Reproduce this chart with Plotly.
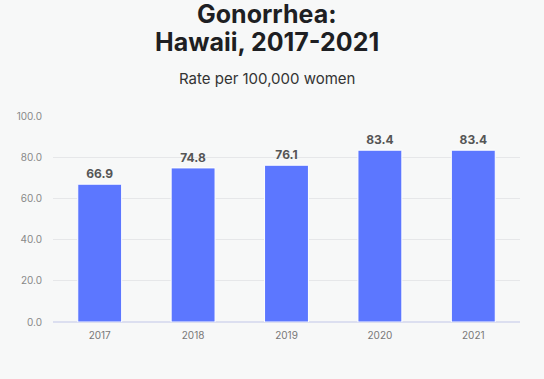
import plotly.graph_objects as go

years = ["2017", "2018", "2019", "2020", "2021"]
rates = [66.9, 74.8, 76.1, 83.4, 83.4]
y_ticks = [0, 20, 40, 60, 80, 100]
y_tick_labels = ["0.0", "20.0", "40.0", "60.0", "80.0", "100.0"]

bg = "#f7f8f8"
fig = go.Figure(go.Bar(
    x=years, y=rates,
    marker=dict(color="#5c77ff", line=dict(color="#ffffff", width=1)),
    text=[f"{v:.1f}" for v in rates],
    textposition="outside",
    textfont=dict(family="Inter", size=12, color="#555555", weight="bold"),
    cliponaxis=False,
))

title_font = dict(family="Inter", size=25, color="#1e1f23", weight=900)
cx = 0.458
fig.update_layout(
    width=544, height=379,
    paper_bgcolor=bg, plot_bgcolor=bg,
    margin=dict(l=53, r=24, t=116, b=57, autoexpand=False),
    bargap=0.53,
    showlegend=False,
    font=dict(family="Inter"),
    annotations=[
        dict(text="<b>Gonorrhea:</b>", x=cx, y=1, xref="paper", yref="paper",
             xanchor="center", yanchor="middle", showarrow=False, yshift=102,
             font=title_font),
        dict(text="<b>Hawaii, 2017-2021</b>", x=cx, y=1, xref="paper", yref="paper",
             xanchor="center", yanchor="middle", showarrow=False, yshift=74,
             font=title_font),
        dict(text="Rate per 100,000 women", x=cx, xref="paper", yref="paper", y=1,
             xanchor="center", yanchor="middle", showarrow=False, yshift=38,
             font=dict(family="Inter", size=15, color="#333333")),
    ],
)
fig.update_xaxes(
    showgrid=False, showline=False, ticks="", automargin=False,
    tickfont=dict(family="Inter", size=10, color="#777777"),
    ticklabelstandoff=6,
)
fig.update_yaxes(
    range=[0, 100], tickvals=y_ticks, ticktext=y_tick_labels, automargin=False,
    showgrid=True, gridcolor="#e6e7e9", gridwidth=1,
    zeroline=True, zerolinecolor="#dcdff0", zerolinewidth=2,
    ticks="", tickfont=dict(family="Inter", size=10, color="#888888"),
    ticklabelstandoff=10,
)
fig.write_html(
    "out.html",
    config={"displayModeBar": False},
    post_script="document.body.style.margin='0';document.body.style.background='#f7f8f8';",
)
